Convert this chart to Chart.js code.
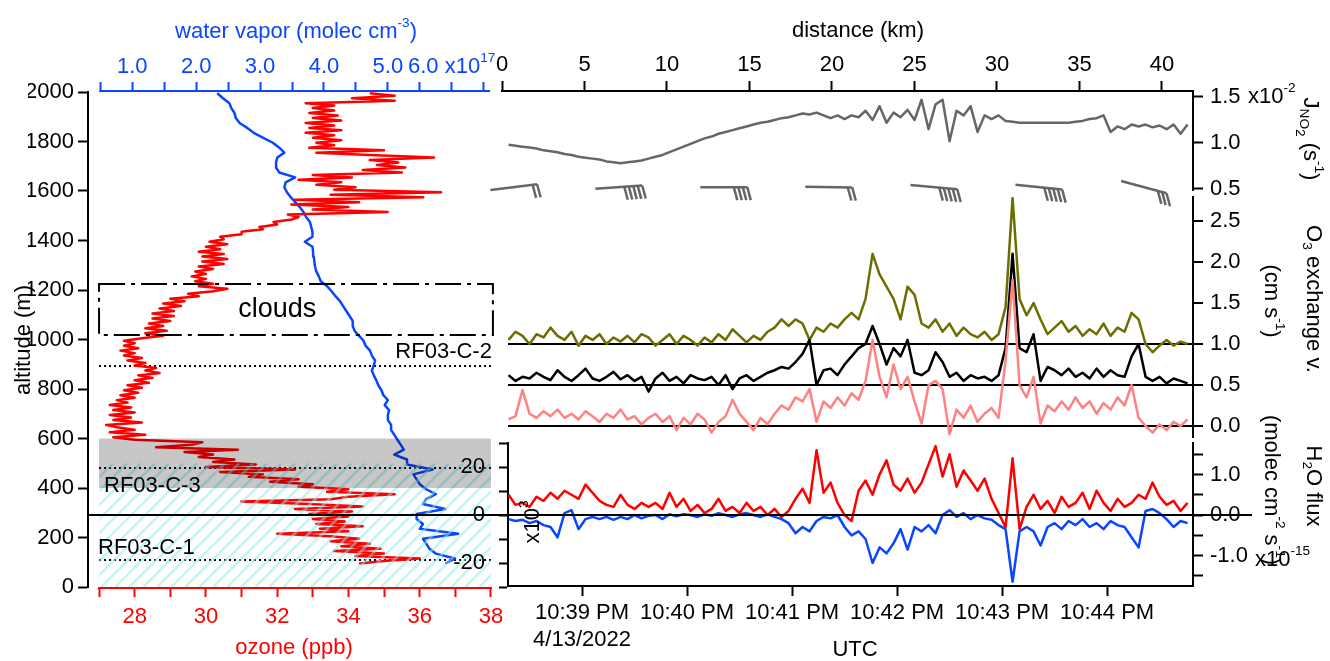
<!DOCTYPE html>
<html>
<head>
<meta charset="utf-8">
<script src="https://cdn.jsdelivr.net/npm/chart.js@4.4.1/dist/chart.umd.min.js"></script>
<style>
  html, body { margin: 0; padding: 0; background: #fff; }
  #fig { position: relative; width: 1330px; height: 661px; overflow: hidden; }
  #fig canvas { position: absolute; left: 0; top: 0; }
</style>
</head>
<body>
<div id="fig">
  <canvas id="cLeft" width="1330" height="661"></canvas>
  <canvas id="cJ" width="1330" height="661"></canvas>
  <canvas id="cO3" width="1330" height="661"></canvas>
  <canvas id="cH2O" width="1330" height="661"></canvas>
</div>
<script>
// profile panel: ozone (ppb) every 10 m from 95 m, water vapor (x1e17) every 20 m from 95 m
const ozone = [
  34.3, 35.0, 36.0, 34.2, 35.0, 33.6, 34.9, 33.8, 34.6, 33.5,
  34.3, 33.5, 32.0, 34.0, 33.2, 34.4, 33.1, 33.9, 33.0, 34.0,
  32.9, 34.1, 32.5, 34.4, 32.9, 31.0, 33.5, 34.0, 35.3, 33.4,
  34.0, 32.6, 33.0, 31.8, 32.6, 31.2, 31.6, 30.4, 32.5, 30.0,
  31.4, 30.2, 30.8, 29.8, 30.2, 29.4, 30.9, 28.6, 29.6, 29.9,
  28.0, 27.4, 28.3, 27.3, 28.0, 27.5, 27.2, 28.2, 27.4, 27.9,
  27.3, 28.0, 27.4, 27.9, 27.3, 27.8, 27.5, 28.0, 27.6, 28.1,
  27.7, 28.2, 27.8, 28.4, 28.0, 28.5, 28.1, 28.7, 28.3, 28.6,
  28.0, 28.3, 27.8, 28.2, 27.7, 28.0, 27.6, 28.1, 27.7, 28.0,
  27.7, 28.2, 28.8, 28.3, 28.9, 28.3, 28.8, 28.4, 29.0, 28.5,
  29.1, 28.5, 29.1, 28.7, 29.3, 28.8, 29.4, 29.0, 29.8, 29.5,
  30.2, 30.6, 29.8, 30.2, 29.7, 30.0, 29.6, 30.0, 29.7, 30.2,
  29.8, 30.5, 29.9, 30.6, 29.9, 30.5, 29.8, 30.4, 30.0, 30.6,
  30.1, 30.5, 30.4, 31.0, 31.0, 31.6, 31.5, 32.0, 31.9, 32.4,
  32.6, 32.3, 35.1, 33.0, 34.0, 32.4, 34.3, 32.5, 36.1, 33.5,
  36.6, 33.6, 34.2, 33.1, 33.8, 32.6, 34.1, 33.0, 35.5, 34.4,
  35.6, 34.8, 35.4, 34.6, 36.4, 34.6, 33.1, 35.0, 32.9, 33.6,
  33.1, 33.8, 33.0, 33.6, 32.8, 33.8, 32.9, 33.6, 32.8, 33.8,
  33.0, 33.7, 32.9, 33.6, 33.0, 33.6, 32.8, 35.3, 34.1, 35.3,
  34.6
];
const altOzone = ozone.map((_, i) => 95 + 10 * i);

const waterVapor = [
  5.9, 6.05, 5.75, 5.65, 5.6, 5.55, 6.1, 5.5, 5.55, 5.45,
  5.45, 5.9, 5.55, 5.6, 5.75, 5.6, 5.5, 5.45, 5.4, 5.7,
  5.3, 5.3, 5.1, 5.25, 5.2, 5.15, 5.1, 5.05, 5.05, 5.0,
  5.0, 5.02, 4.95, 5.0, 4.93, 4.9, 4.85, 4.82, 4.78, 4.75,
  4.78, 4.8, 4.75, 4.72, 4.65, 4.62, 4.55, 4.48, 4.45, 4.45,
  4.4, 4.35, 4.3, 4.25, 4.18, 4.12, 4.05, 3.95, 3.92, 3.88,
  3.86, 3.85, 3.84, 3.83, 3.82, 3.7, 3.82, 3.82, 3.8, 3.78,
  3.72, 3.68, 3.62, 3.55, 3.48, 3.42, 3.38, 3.4, 3.55, 3.3,
  3.25, 3.25, 3.27, 3.38, 3.3, 3.2, 3.05, 2.9, 2.8, 2.68,
  2.62, 2.6, 2.55, 2.52, 2.42, 2.33
];
const altWater = waterVapor.map((_, i) => 95 + 20 * i);

const ozoneTicks = [27, 28, 29, 30, 31, 32, 33, 34, 35, 36, 37, 38];
const waterTicks = [0.5, 1, 1.5, 2, 2.5, 3, 3.5, 4, 4.5, 5, 5.5, 6, 6.5];
const altTicks = [0, 200, 400, 600, 800, 1000, 1200, 1400, 1600, 1800, 2000];
const legAlt = [893, 481, 109];
const legNames = ['RF03-C-2', 'RF03-C-3', 'RF03-C-1'];
const cloudAlt = [1018, 1224];
const bandAlt = [400, 600];
const hatchAlt = [0, 500];

// time series: seconds after 10:38:00 PM, every 4 s
const tSec = Array.from({ length: 98 }, (_, i) => 18 + 4 * i);

const jno2 = [
  0.98, 0.97, 0.96, 0.95, 0.94, 0.92, 0.91, 0.9, 0.88, 0.87,
  0.85, 0.84, 0.83, 0.82, 0.8, 0.79, 0.78, 0.79, 0.8, 0.81,
  0.83, 0.85, 0.87, 0.9, 0.93, 0.96, 0.99, 1.02, 1.05, 1.07,
  1.1, 1.12, 1.14, 1.16, 1.18, 1.2, 1.22, 1.23, 1.25, 1.27,
  1.28, 1.3, 1.32, 1.31, 1.33, 1.3, 1.27, 1.3, 1.26, 1.3,
  1.28, 1.35, 1.25, 1.4, 1.22, 1.33, 1.28, 1.36, 1.25, 1.47,
  1.15, 1.42, 1.47, 1.02, 1.35, 1.3, 1.4, 1.12, 1.3, 1.26,
  1.3, 1.24, 1.23, 1.22, 1.22, 1.22, 1.22, 1.22, 1.22, 1.22,
  1.22, 1.23, 1.24, 1.26, 1.27, 1.3, 1.12, 1.18, 1.15, 1.2,
  1.18, 1.2, 1.17, 1.19, 1.15, 1.2, 1.1, 1.2
];

const o3Olive = [
  1.05, 1.15, 1.1, 1.0, 1.12, 1.08, 1.2, 1.1, 1.05, 1.15,
  0.98, 1.1, 1.05, 1.12, 1.0, 1.08, 1.03, 1.1, 1.02, 1.12,
  1.08, 0.98, 1.05, 1.12, 1.0, 1.1, 1.05, 0.98, 1.08, 1.02,
  1.12, 1.05, 1.18, 1.1, 1.02, 1.1, 1.05, 1.15, 1.2, 1.3,
  1.22, 1.3, 1.25, 1.05, 1.2, 1.15, 1.25, 1.2, 1.3, 1.38,
  1.3, 1.55, 2.1, 1.85, 1.7, 1.55, 1.3, 1.7, 1.6, 1.25,
  1.2, 1.3, 1.15, 1.25, 1.1, 1.2, 1.12, 1.08, 1.15, 1.05,
  1.12, 1.45, 2.78, 1.55, 1.35, 1.5, 1.3, 1.12, 1.2, 1.28,
  1.15, 1.22, 1.1, 1.18, 1.12, 1.25, 1.1, 1.2, 1.15, 1.38,
  1.3, 1.0, 0.9, 0.98, 1.05, 0.98, 1.03, 1.0
];

const o3Black = [
  0.62, 0.55, 0.6, 0.58, 0.65, 0.6, 0.56, 0.68, 0.6, 0.55,
  0.62, 0.7, 0.58, 0.55, 0.6, 0.66, 0.57, 0.62, 0.55, 0.6,
  0.42, 0.58, 0.65, 0.55, 0.6, 0.52, 0.62, 0.58, 0.56, 0.6,
  0.5, 0.62, 0.45, 0.58, 0.62, 0.55, 0.6, 0.65, 0.68, 0.72,
  0.7, 0.78, 0.88, 1.05, 0.5, 0.68, 0.7, 0.62, 0.75, 0.85,
  0.95, 1.0, 1.22, 1.0, 0.75, 0.95, 0.85, 1.05, 0.65, 0.62,
  0.68, 0.9, 0.78, 0.6, 0.65, 0.55, 0.62, 0.58, 0.6, 0.55,
  0.62, 0.95, 2.1, 0.95, 0.9, 1.12, 0.55, 0.72, 0.68, 0.62,
  0.7, 0.6, 0.65, 0.58, 0.7, 0.6, 0.68, 0.62, 0.6, 0.85,
  1.0, 0.6, 0.55, 0.6, 0.52, 0.58, 0.55, 0.52
];

const o3Pink = [
  0.08, 0.12, 0.44, 0.15, 0.1, 0.18, 0.12, 0.2, 0.1, 0.15,
  0.08, 0.18, 0.12, 0.05, 0.15, 0.1, 0.2, 0.08, 0.12, 0.02,
  0.1, 0.15, 0.05, 0.12, -0.05, 0.1, 0.02, 0.15, 0.08, -0.08,
  0.05, 0.12, 0.32, 0.15, 0.05, -0.05, 0.1, 0.02, 0.15, 0.25,
  0.2, 0.35, 0.3, 0.45, 0.05, 0.3, 0.22, 0.35, 0.25, 0.4,
  0.32, 0.55, 1.05, 0.6, 0.35, 0.75, 0.45, 0.6, 0.3, 0.03,
  0.5, 0.55, 0.45, -0.1, 0.2, 0.1, 0.25, 0.05, 0.15, 0.22,
  0.1, 0.8, 1.78, 0.5, 0.35, 0.6, 0.03, 0.25, 0.18, 0.3,
  0.2, 0.35, 0.22, 0.3, 0.15, 0.28, 0.2, 0.35, 0.25, 0.5,
  0.1, 0.0, -0.08, 0.02, -0.05, 0.05, 0.0, 0.08
];

// H2O flux, red in 1e15 (right axis), blue in 1e3 (left axis)
const fluxRed = [
  0.5, 0.25, 0.3, 0.2, 0.45, 0.35, 0.55, 0.4, 0.6, 0.5,
  0.4, 0.75, 0.55, 0.35, 0.25, 0.2, 0.5, 0.25, 0.15, 0.3,
  0.2, 0.3, 0.15, 0.55, 0.2, 0.4, 0.1, 0.25, 0.05, 0.15,
  0.4, 0.1, 0.2, 0.05, 0.3, 0.1, 0.2, 0.0, 0.15, -0.05,
  0.1, 0.4, 0.65, 0.3, 1.6, 0.55, 0.8, 0.3, 0.0, -0.15,
  0.6, 0.85, 0.5, 1.0, 1.35, 0.75, 0.6, 0.9, 0.55, 0.8,
  1.25, 1.7, 0.95, 1.5, 0.7, 1.1, 0.85, 0.6, 0.9, 0.4,
  0.05, -0.3, 1.4, -0.35, 0.2, 0.5, 0.15, 0.35, 0.05, 0.45,
  0.2, 0.3, 0.55, 0.15, 0.6, 0.3, 0.1, 0.4, 0.2, 0.3,
  0.5, 0.4, 0.8, 0.45, 0.25, 0.35, 0.1, 0.3
];

const fluxBlue = [
  -1.7, -2.5, -2, -3.4, -2.5, -4.2, -5, -9.3, 0.8, 2,
  -5.9, -1.7, -0.8, -1.7, -0.8, -2, -0.8, -1.7, 0, -1.4,
  -0.3, 0, -1.7, 0.3, -0.5, 0.3, 0, -0.8, 0.3, -0.3,
  0.8, 0, -0.8, 0.3, 0.8, 0, -0.8, 0.3, -0.8, -1.7,
  -3.4, -7.6, -5, -6.8, -2.5, -0.8, -1.4, 0, -5, -8.5,
  -6.8, -10, -20, -13.5, -16, -11.8, -5.9, -14.4, -5, -6.8,
  -4.2, -7.6, 0, 2, -0.8, 0.8, -1.7, 0, -1.4, -2,
  -4.2, -5.9, -27.8, -6.8, -5, -6.8, -12.7, -5, -3.4, -5.9,
  -2.5, -4.2, -1.7, -5, -3.4, -5.9, -2.5, -4.2, -5, -9.3,
  -13.5, 1.7, 2.5, 0.8, -1.7, -5, -2.5, -3.4
];

// wind barbs
const barbT = [21, 81, 141, 201, 261, 321, 381];
const barbAngle = [-7, -4, 0, 1, 5, 6, 15];
const barbCount = [2, 5, 4, 2, 5, 5, 3];
const barbLevel = 0.52;

const distTicks = [0, 5, 10, 15, 20, 25, 30, 35, 40];
const jTicks = [0.5, 1.0, 1.5];
const o3Ticks = [0, 0.5, 1, 1.5, 2, 2.5];
const o3Base = [0, 0.5, 1];
const fluxTicks = [-1.5, -1, -0.5, 0, 0.5, 1, 1.5];
const fluxLeftTicks = [-30, -20, -10, 0, 10, 20, 30];
const timeTicks = [60, 120, 180, 240, 300, 360];
const timeLabels = ['10:39 PM', '10:40 PM', '10:41 PM', '10:42 PM', '10:43 PM', '10:44 PM'];
const dateLabel = '4/13/2022';

const RED = '#ff0000', BLUE = '#0a46ff', OLIVE = '#6e6e00', PINK = '#ff8282', GRAY = '#666666';
const FONT = "'Liberation Sans', Arial, sans-serif";

Chart.defaults.font.family = FONT;
Chart.defaults.font.size = 22;
Chart.defaults.color = '#000';
Chart.defaults.animation = false;
Chart.defaults.events = [];
Chart.defaults.plugins.legend.display = false;
Chart.defaults.plugins.tooltip.enabled = false;

const setTicks = vals => s => { s.ticks = vals.map(v => ({ value: v })); };
const fitW = w => s => { s.width = w; };
const fitH = h => s => { s.height = h; };

function drawRuns(ctx, parts, x, y, opts = {}) {
  const size = opts.size || 22;
  ctx.save();
  ctx.translate(x, y);
  ctx.rotate(opts.rot || 0);
  ctx.fillStyle = opts.color || '#000';
  ctx.textBaseline = 'middle';
  ctx.textAlign = 'left';
  const pieces = parts.map(([t, k]) => {
    const s = k === 0 ? size : size * 0.62;
    ctx.font = s + 'px ' + FONT;
    return { t, k, s, w: ctx.measureText(t).width };
  });
  const total = pieces.reduce((a, p) => a + p.w, 0);
  let cx = opts.align === 'left' ? 0 : opts.align === 'right' ? -total : -total / 2;
  pieces.forEach(p => {
    ctx.font = p.s + 'px ' + FONT;
    const dy = p.k > 0 ? -size * 0.42 : p.k === -1 ? size * 0.3 : p.k === -2 ? size * 0.45 : 0;
    ctx.fillText(p.t, cx, dy);
    cx += p.w;
  });
  ctx.restore();
}

const line = (data, color, axes, width = 2.5) => Object.assign({
  data, borderColor: color, borderWidth: width, showLine: true,
  pointRadius: 0, borderJoinStyle: 'round'
}, axes);

// ---------- left: vertical profile ----------
const profileDecor = {
  id: 'profileDecor',
  afterDatasetsDraw(chart) {
    const { ctx, scales: { x, y } } = chart;
    const xa = x.getPixelForValue(ozoneTicks[0]);
    const xb = x.getPixelForValue(ozoneTicks[ozoneTicks.length - 1]);

    const hb = y.getPixelForValue(hatchAlt[0]), ht = y.getPixelForValue(hatchAlt[1]);
    ctx.save();
    ctx.beginPath();
    ctx.rect(xa, ht, xb - xa, hb - ht);
    ctx.clip();
    ctx.strokeStyle = 'rgba(140, 232, 238, 0.5)';
    ctx.lineWidth = 2.5;
    for (let k = -(hb - ht); k < xb - xa; k += 14) {
      ctx.beginPath();
      ctx.moveTo(xa + k, hb);
      ctx.lineTo(xa + k + (hb - ht), ht);
      ctx.stroke();
    }
    ctx.restore();

    ctx.save();
    const gt = y.getPixelForValue(bandAlt[1]), gb = y.getPixelForValue(bandAlt[0]);
    ctx.fillStyle = 'rgba(0, 0, 0, 0.22)';
    ctx.fillRect(xa, gt, xb - xa, gb - gt);

    const ct = y.getPixelForValue(cloudAlt[1]), cb = y.getPixelForValue(cloudAlt[0]);
    ctx.setLineDash([26, 6, 4, 6]);
    ctx.lineWidth = 2;
    ctx.strokeStyle = '#000';
    ctx.strokeRect(xa, ct, xb - xa + 2, cb - ct);
    ctx.restore();
  },
  afterDraw(chart) {
    const { ctx, chartArea, scales: { x, y, x2 } } = chart;
    const xa = x.getPixelForValue(ozoneTicks[0]);
    const xb = x.getPixelForValue(ozoneTicks[ozoneTicks.length - 1]);
    ctx.save();
    ctx.lineWidth = 2;
    ctx.strokeStyle = RED;
    ctx.beginPath();
    ctx.moveTo(xa - 1, chartArea.bottom + 1);
    ctx.lineTo(xb + 1, chartArea.bottom + 1);
    ctx.stroke();
    ctx.strokeStyle = BLUE;
    ctx.beginPath();
    ctx.moveTo(x2.getPixelForValue(waterTicks[0]) - 1, chartArea.top - 1);
    ctx.lineTo(chartArea.right - 2, chartArea.top - 1);
    ctx.stroke();
    ctx.restore();

    drawRuns(ctx, [['altitude (m)', 0]], 24, 340, { rot: -Math.PI / 2 });
    drawRuns(ctx, [['ozone (ppb)', 0]], 294, 648, { color: RED });
    drawRuns(ctx, [['water vapor (molec cm', 0], ['-3', 1], [')', 0]], 296, 32, { color: BLUE });
    drawRuns(ctx, [['6.0 x10', 0], ['17', 1]], 408, 67, { color: BLUE, align: 'left' });

    drawRuns(ctx, [['clouds', 0]], x.getPixelForValue(32), (y.getPixelForValue(cloudAlt[0]) + y.getPixelForValue(cloudAlt[1])) / 2, { size: 27 });
    drawRuns(ctx, [[legNames[0], 0]], xb + 1, y.getPixelForValue(legAlt[0]) - 14, { align: 'right' });
    drawRuns(ctx, [[legNames[1], 0]], xa + 5, y.getPixelForValue(legAlt[1]) + 18, { align: 'left' });
    drawRuns(ctx, [[legNames[2], 0]], xa - 1, y.getPixelForValue(legAlt[2]) - 12, { align: 'left' });
  }
};

const leftChart = new Chart(document.getElementById('cLeft'), {
  type: 'scatter',
  data: {
    datasets: [
      line(ozone.map((v, i) => ({ x: v, y: altOzone[i] })), RED, { xAxisID: 'x', yAxisID: 'y' }),
      line(waterVapor.map((v, i) => ({ x: v, y: altWater[i] })), BLUE, { xAxisID: 'x2', yAxisID: 'y' }),
      ...legAlt.map(a => Object.assign(line([{ x: ozoneTicks[0], y: a }, { x: ozoneTicks[ozoneTicks.length - 1], y: a }], '#000', { xAxisID: 'x', yAxisID: 'y' }, 2), { borderDash: [2, 3] }))
    ]
  },
  options: {
    responsive: false,
    layout: { padding: { left: 28, right: 838, top: 12, bottom: 4 } },
    scales: {
      x: {
        type: 'linear', axis: 'x', position: 'bottom', min: 26.69, max: 38.03,
        afterBuildTicks: setTicks(ozoneTicks), afterFit: fitH(70),
        border: { display: false },
        grid: { drawOnChartArea: false, tickLength: 10, tickWidth: 2, tickColor: RED },
        ticks: { color: RED, padding: 7, maxRotation: 0, autoSkip: false, callback: v => v % 2 === 0 ? String(v) : '' }
      },
      x2: {
        type: 'linear', axis: 'x', position: 'top', min: 0.307, max: 6.63,
        afterBuildTicks: setTicks(waterTicks), afterFit: fitH(80),
        border: { display: false },
        grid: { drawOnChartArea: false, tickLength: 10, tickWidth: 2, tickColor: BLUE },
        ticks: { color: BLUE, padding: 2, maxRotation: 0, autoSkip: false, callback: v => Number.isInteger(v) && v <= 5 ? v.toFixed(1) : '' }
      },
      y: {
        type: 'linear', axis: 'y', position: 'left', min: 0, max: 2000,
        afterBuildTicks: setTicks(altTicks), afterFit: fitW(60),
        border: { color: '#000', width: 2 },
        grid: { drawOnChartArea: false, tickLength: 10, tickWidth: 2, tickColor: '#000' },
        ticks: { padding: 4, autoSkip: false, callback: v => String(v) }
      }
    }
  },
  plugins: [profileDecor]
});

// ---------- right top: J(NO2) + wind barbs + distance axis ----------
const jDecor = {
  id: 'jDecor',
  afterDatasetsDraw(chart) {
    const { ctx, scales: { x, yJ } } = chart;
    ctx.save();
    ctx.strokeStyle = GRAY;
    ctx.lineWidth = 2.5;
    barbT.forEach((t, i) => {
      const cx = x.getPixelForValue(t), cy = yJ.getPixelForValue(barbLevel);
      const a = barbAngle[i] * Math.PI / 180;
      const dx = Math.cos(a), dy = Math.sin(a), L = 47;
      const ex = cx + dx * L / 2, ey = cy + dy * L / 2;
      ctx.beginPath();
      ctx.moveTo(cx - dx * L / 2, cy - dy * L / 2);
      ctx.lineTo(ex, ey);
      ctx.stroke();
      for (let k = 0; k < barbCount[i]; k++) {
        const fx = ex - dx * 4.5 * k, fy = ey - dy * 4.5 * k;
        ctx.beginPath();
        ctx.moveTo(fx, fy);
        ctx.lineTo(fx + 3.5, fy + 13);
        ctx.stroke();
      }
    });
    ctx.restore();
  },
  afterDraw(chart) {
    const { ctx } = chart;
    drawRuns(ctx, [['distance (km)', 0]], 858, 31);
    drawRuns(ctx, [['x10', 0], ['-2', 1]], 1248, 97, { align: 'left' });
    drawRuns(ctx, [['J', 0], ['NO', -1], ['2', -2], [' (s', 0], ['-1', 1], [')', 0]], 1310, 139, { rot: Math.PI / 2 });
  }
};

new Chart(document.getElementById('cJ'), {
  type: 'scatter',
  data: {
    datasets: [line(jno2.map((v, i) => ({ x: tSec[i], y: v })), GRAY, { xAxisID: 'x', yAxisID: 'yJ' })]
  },
  options: {
    responsive: false,
    layout: { padding: { left: 502, right: 17, top: 21, bottom: 471 } },
    scales: {
      x: { type: 'linear', axis: 'x', display: false, min: 14.27, max: 409.1 },
      xd: {
        type: 'linear', axis: 'x', position: 'top', min: 0, max: 41.88,
        afterBuildTicks: setTicks(distTicks), afterFit: fitH(70),
        border: { color: '#000', width: 2 },
        grid: { drawOnChartArea: false, tickLength: 10, tickWidth: 2, tickColor: '#000' },
        ticks: { padding: 3, maxRotation: 0, autoSkip: false, callback: v => String(v) }
      },
      yJ: {
        type: 'linear', axis: 'y', position: 'right', min: 0.489, max: 1.565,
        afterBuildTicks: setTicks(jTicks), afterFit: fitW(120),
        border: { color: '#000', width: 2 },
        grid: { drawOnChartArea: false, tickLength: 10, tickWidth: 2, tickColor: '#000' },
        ticks: { padding: 7, autoSkip: false, callback: v => v.toFixed(1) }
      }
    }
  },
  plugins: [jDecor]
});

// ---------- right middle: O3 exchange velocity ----------
const o3Decor = {
  id: 'o3Decor',
  afterDraw(chart) {
    const { ctx } = chart;
    drawRuns(ctx, [['O', 0], ['3', -1], [' exchange v.', 0]], 1313, 299, { rot: Math.PI / 2 });
    drawRuns(ctx, [['(cm s', 0], ['-1', 1], [')', 0]], 1271, 301, { rot: Math.PI / 2 });
  }
};

new Chart(document.getElementById('cO3'), {
  type: 'scatter',
  data: {
    datasets: [
      line(o3Pink.map((v, i) => ({ x: tSec[i], y: v })), PINK, { xAxisID: 'x', yAxisID: 'yO' }),
      line(o3Black.map((v, i) => ({ x: tSec[i], y: v })), '#000', { xAxisID: 'x', yAxisID: 'yO' }),
      line(o3Olive.map((v, i) => ({ x: tSec[i], y: v })), OLIVE, { xAxisID: 'x', yAxisID: 'yO' })
    ]
  },
  options: {
    responsive: false,
    layout: { padding: { left: 508, right: 17, top: 197, bottom: 224 } },
    scales: {
      x: { type: 'linear', axis: 'x', display: false, min: 17.7, max: 409.1 },
      yO: {
        type: 'linear', axis: 'y', position: 'right', min: -0.134, max: 2.793,
        afterBuildTicks: setTicks(o3Ticks), afterFit: fitW(120),
        border: { color: '#000', width: 2 },
        grid: {
          drawOnChartArea: true, lineWidth: 2, tickLength: 10, tickWidth: 2, tickColor: '#000',
          color: c => c.tick && o3Base.includes(c.tick.value) ? '#000' : 'rgba(0,0,0,0)'
        },
        ticks: { padding: 7, autoSkip: false, callback: v => v.toFixed(1) }
      }
    }
  },
  plugins: [o3Decor]
});

// ---------- right bottom: H2O flux + time axis ----------
const fluxDecor = {
  id: 'fluxDecor',
  afterDraw(chart) {
    const { ctx, scales: { yR } } = chart;
    const y0 = yR.getPixelForValue(0);
    ctx.save();
    ctx.strokeStyle = '#000';
    ctx.lineWidth = 2;
    ctx.beginPath();
    ctx.moveTo(leftChart.chartArea.left, y0);
    ctx.lineTo(1252, y0);
    ctx.stroke();
    ctx.restore();

    drawRuns(ctx, [['H', 0], ['2', -1], ['O flux', 0]], 1313, 486, { rot: Math.PI / 2 });
    drawRuns(ctx, [['(molec cm', 0], ['-2', 1], [' s', 0], ['-1', 1], [')', 0]], 1271, 490, { rot: Math.PI / 2 });
    drawRuns(ctx, [['x10', 0], ['-15', 1]], 1255, 560, { align: 'left' });
    drawRuns(ctx, [['x10', 0], ['3', 1]], 533, 522, { rot: -Math.PI / 2 });
    drawRuns(ctx, [['UTC', 0]], 855, 650);
  }
};

new Chart(document.getElementById('cH2O'), {
  type: 'scatter',
  data: {
    datasets: [
      line(fluxRed.map((v, i) => ({ x: tSec[i], y: v })), RED, { xAxisID: 'x', yAxisID: 'yR' }),
      line(fluxBlue.map((v, i) => ({ x: tSec[i], y: v })), BLUE, { xAxisID: 'x', yAxisID: 'yL' })
    ]
  },
  options: {
    responsive: false,
    layout: { padding: { left: 448, right: 17, top: 443, bottom: 5 } },
    scales: {
      x: {
        type: 'linear', axis: 'x', position: 'bottom', min: 17.7, max: 409.1,
        afterBuildTicks: setTicks(timeTicks), afterFit: fitH(70),
        border: { color: '#000', width: 2 },
        grid: { drawOnChartArea: false, tickLength: 10, tickWidth: 2, tickColor: '#000' },
        ticks: {
          padding: 4, maxRotation: 0, autoSkip: false,
          callback: v => {
            const i = timeTicks.indexOf(v);
            return i === 0 ? [timeLabels[0], dateLabel] : timeLabels[i];
          }
        }
      },
      yL: {
        type: 'linear', axis: 'y', position: 'left', min: -29.58, max: 30,
        afterBuildTicks: setTicks(fluxLeftTicks), afterFit: fitW(60),
        border: { color: '#000', width: 2 },
        grid: { drawOnChartArea: false, tickLength: 9, tickWidth: 2, tickColor: '#000' },
        ticks: { padding: 14, autoSkip: false, callback: v => Math.abs(v) === 20 || v === 0 ? String(v) : '' }
      },
      yR: {
        type: 'linear', axis: 'y', position: 'right', min: -1.753, max: 1.778,
        afterBuildTicks: setTicks(fluxTicks), afterFit: fitW(120),
        border: { color: '#000', width: 2 },
        grid: { drawOnChartArea: false, tickLength: 10, tickWidth: 2, tickColor: '#000' },
        ticks: { padding: 7, autoSkip: false, callback: v => Number.isInteger(v) ? v.toFixed(1) : '' }
      }
    }
  },
  plugins: [fluxDecor]
});
</script>
</body>
</html>
